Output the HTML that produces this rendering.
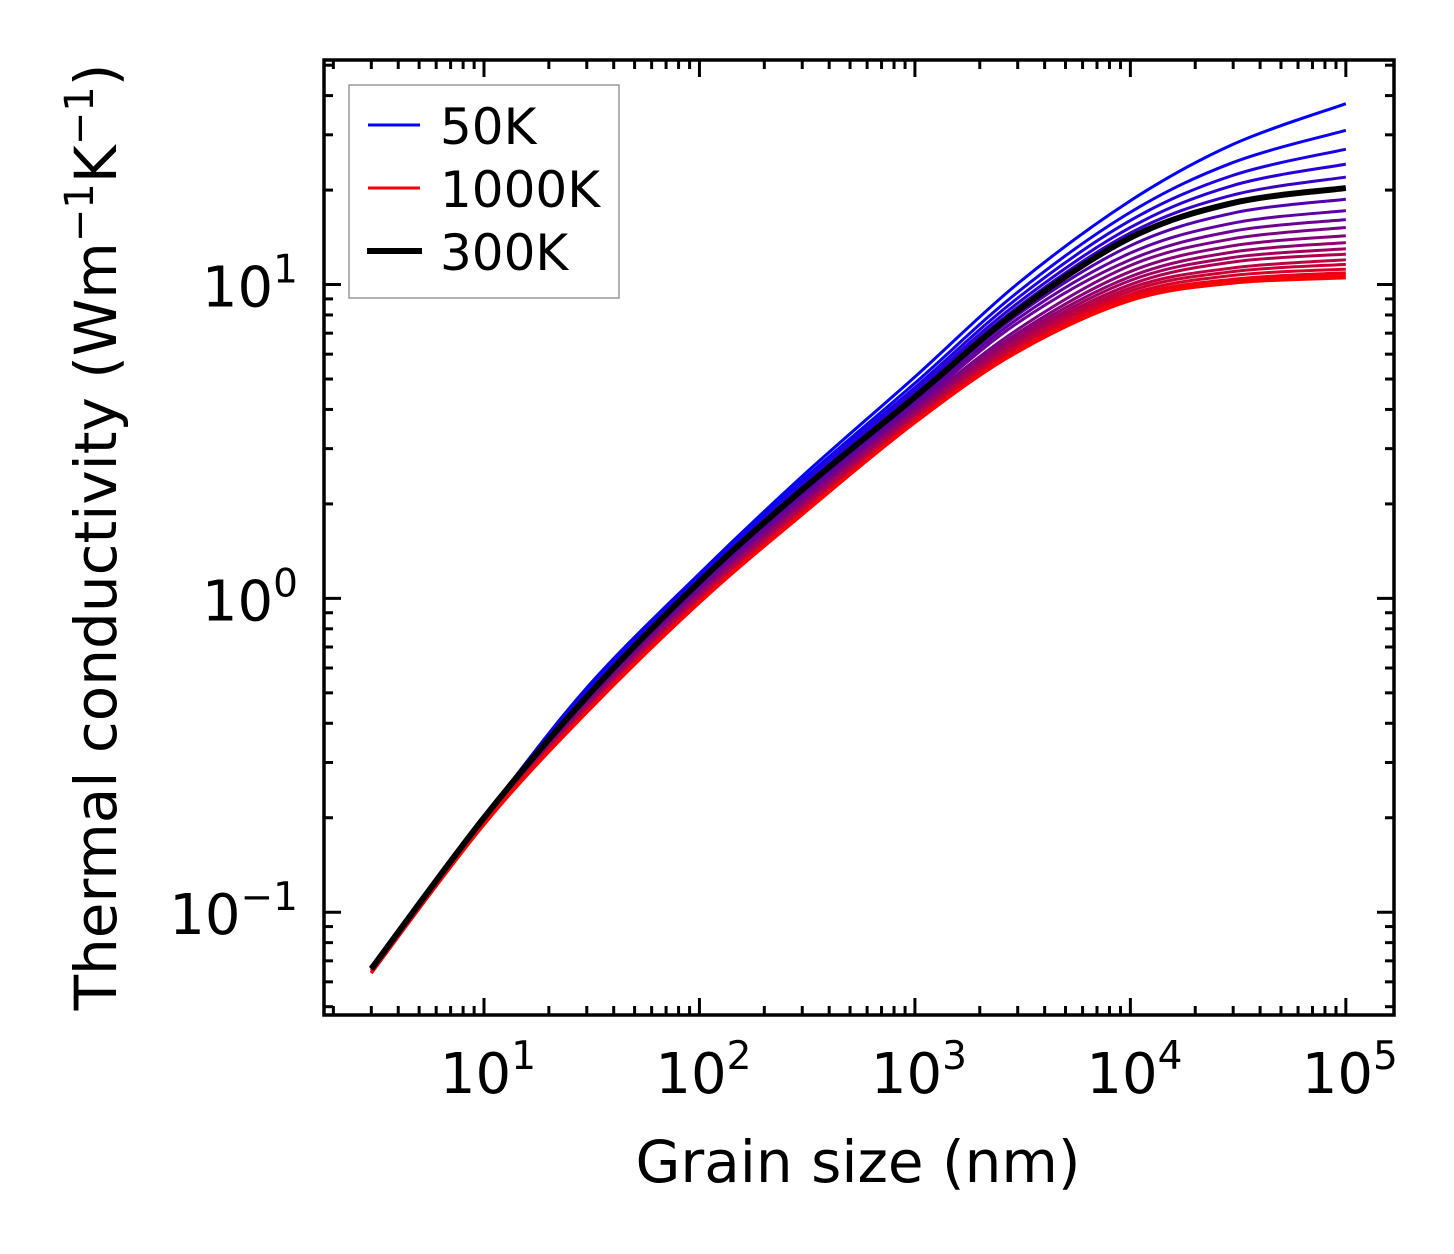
<!DOCTYPE html>
<html><head><meta charset="utf-8"><style>
html,body{margin:0;padding:0;background:#fff;}
svg{display:block;font-family:"DejaVu Sans","Liberation Sans",sans-serif;}
</style></head><body>
<svg id="chart" width="1454" height="1254" viewBox="0 0 1454 1254" xmlns="http://www.w3.org/2000/svg">
<rect width="1454" height="1254" fill="#fff"/>
<g id="curves"></g>
<g id="ticks"></g>
<rect x="324" y="60" width="1070" height="955" fill="none" stroke="#000" stroke-width="3.5"/>
<text x="858" y="1182" font-size="58" text-anchor="middle">Grain size (nm)</text>
<text transform="translate(116,537) rotate(-90)" font-size="58" text-anchor="middle">Thermal conductivity (Wm<tspan dy="-23" font-size="40">−1</tspan><tspan dy="23">K</tspan><tspan dy="-23" font-size="40">−1</tspan><tspan dy="23">)</tspan></text>
<g>
<rect x="349" y="85" width="270" height="213" fill="#fff" stroke="#999" stroke-width="1.5"/>
<g><line x1="368" y1="125" x2="420" y2="125" stroke="#0000ff" stroke-width="3"/><text x="440" y="144" font-size="50">50K</text></g>
<g><line x1="368" y1="188" x2="420" y2="188" stroke="#ff0000" stroke-width="3"/><text x="440" y="207" font-size="50">1000K</text></g>
<g><line x1="367" y1="251" x2="422" y2="251" stroke="#000" stroke-width="6"/><text x="440" y="270" font-size="50">300K</text></g>
</g>
</svg>
<script>
const grainSizes = [3, 10, 30, 100, 300, 1000, 3000, 10000, 30000, 100000];
const temps = [50,100,150,200,250,300,350,400,450,500,550,600,650,700,750,800,850,900,950,1000];
const k50   = [0.066,0.200,0.519,1.20,2.45,5.08,10.07,18.5,28.0,37.7];
const k100  = [0.066,0.200,0.508,1.18,2.38,4.85,9.46,17.0,24.5,31.0];
const k150  = [0.066,0.200,0.501,1.16,2.33,4.70,9.06,16.0,22.3,27.0];
const k200  = [0.066,0.200,0.495,1.15,2.28,4.58,8.73,15.2,20.7,24.2];
const k250  = [0.066,0.200,0.491,1.14,2.24,4.47,8.47,14.6,19.3,22.0];
const k300  = [0.066,0.200,0.486,1.13,2.22,4.38,8.26,14.1,18.2,20.3];
const k350  = [0.066,0.198,0.480,1.11,2.16,4.29,8.02,13.3,16.9,18.7];
const k400  = [0.066,0.197,0.472,1.08,2.11,4.18,7.78,12.6,15.7,17.2];
const k450  = [0.065,0.196,0.467,1.07,2.08,4.10,7.55,12.0,14.8,16.1];
const k500  = [0.065,0.195,0.462,1.05,2.04,4.03,7.20,11.5,14.0,15.2];
const k550  = [0.065,0.195,0.457,1.04,2.01,3.96,7.00,11.0,13.3,14.3];
const k600  = [0.065,0.194,0.453,1.03,1.98,3.90,6.85,10.6,12.7,13.6];
const k650  = [0.065,0.194,0.449,1.02,1.96,3.86,6.70,10.3,12.2,13.0];
const k700  = [0.065,0.193,0.447,1.01,1.94,3.81,6.58,10.0,11.8,12.5];
const k750  = [0.064,0.193,0.443,0.998,1.91,3.77,6.45,9.75,11.3,12.0];
const k800  = [0.064,0.192,0.441,0.991,1.90,3.73,6.35,9.53,11.0,11.6];
const k850  = [0.064,0.192,0.438,0.984,1.88,3.69,6.27,9.31,10.7,11.2];
const k900  = [0.064,0.191,0.436,0.977,1.87,3.67,6.20,9.14,10.4,10.9];
const k950  = [0.064,0.191,0.435,0.973,1.85,3.64,6.15,9.02,10.3,10.7];
const k1000 = [0.064,0.190,0.433,0.968,1.85,3.63,6.10,8.89,10.1,10.5];
const series = [k50,k100,k150,k200,k250,k300,k350,k400,k450,k500,k550,k600,k650,k700,k750,k800,k850,k900,k950,k1000];
const highlightSeries = k300;
const xTickLabels = ["1","2","3","4","5"];
const yTickLabels = ["−1","0","1"];

const NS = "http://www.w3.org/2000/svg";
const X0 = 324, X1 = 1394, Y0 = 60, Y1 = 1015;
const xlogMin = 0.2575, xlogMax = 5.2235;
const ylogMin = -1.3275, ylogMax = 1.7155;
function xScale(v){ return X0 + (Math.log10(v) - xlogMin) / (xlogMax - xlogMin) * (X1 - X0); }
function yScale(v){ return Y1 - (Math.log10(v) - ylogMin) / (ylogMax - ylogMin) * (Y1 - Y0); }

function smoothPath(pts){
  let d = "M" + pts[0][0].toFixed(2) + "," + pts[0][1].toFixed(2);
  for (let i = 0; i < pts.length - 1; i++){
    const p0 = pts[Math.max(0,i-1)], p1 = pts[i], p2 = pts[i+1], p3 = pts[Math.min(pts.length-1,i+2)];
    const c1x = p1[0] + (p2[0]-p0[0])/6, c1y = p1[1] + (p2[1]-p0[1])/6;
    const c2x = p2[0] - (p3[0]-p1[0])/6, c2y = p2[1] - (p3[1]-p1[1])/6;
    d += " C" + c1x.toFixed(2)+","+c1y.toFixed(2)+" "+c2x.toFixed(2)+","+c2y.toFixed(2)+" "+p2[0].toFixed(2)+","+p2[1].toFixed(2);
  }
  return d;
}

const curves = document.getElementById("curves");
const n = series.length;
series.forEach((vals, i) => {
  const t = i / (n - 1);
  const pts = vals.map((v, j) => [xScale(grainSizes[j]), yScale(v)]);
  const p = document.createElementNS(NS, "path");
  p.setAttribute("d", smoothPath(pts));
  p.setAttribute("fill", "none");
  p.setAttribute("stroke", "rgb(" + Math.round(255*t) + ",0," + Math.round(255*(1-t)) + ")");
  p.setAttribute("stroke-width", "3");
  
  
  curves.appendChild(p);
});
{
  const pts = highlightSeries.map((v, j) => [xScale(grainSizes[j]), yScale(v)]);
  const p = document.createElementNS(NS, "path");
  p.setAttribute("d", smoothPath(pts));
  p.setAttribute("fill", "none");
  p.setAttribute("stroke", "#000");
  p.setAttribute("stroke-width", "6");
  
  
  curves.appendChild(p);
}

const ticks = document.getElementById("ticks");
function line(x1,y1,x2,y2){
  const l = document.createElementNS(NS, "line");
  l.setAttribute("x1",x1); l.setAttribute("y1",y1); l.setAttribute("x2",x2); l.setAttribute("y2",y2);
  l.setAttribute("stroke","#000"); l.setAttribute("stroke-width","3");
  
  
  ticks.appendChild(l);
}
function label(x,y,base,exp,anchor,name){
  const t = document.createElementNS(NS, "text");
  t.setAttribute("x",x); t.setAttribute("y",y);
  t.setAttribute("font-size","56"); t.setAttribute("text-anchor",anchor);
  t.innerHTML = base + '<tspan dy="-24" font-size="39">' + exp + '</tspan>';
  
  
  ticks.appendChild(t);
}
for (let d = 0; d <= 5; d++){
  for (let m = 1; m <= 9; m++){
    const v = m * Math.pow(10, d);
    const x = xScale(v);
    if (x < X0 + 1 || x > X1 - 1) continue;
    const len = m === 1 ? 17 : 9;
    line(x, Y1, x, Y1 - len);
    line(x, Y0, x, Y0 + len);
  }
}
xTickLabels.forEach((e, i) => {
  const x = xScale(Math.pow(10, i + 1));
  label(x + 4, 1093, "10", e, "middle", "x-tick-label-1e" + e);
});
for (let d = -2; d <= 1; d++){
  for (let m = 1; m <= 9; m++){
    const v = m * Math.pow(10, d);
    const y = yScale(v);
    if (y < Y0 + 1 || y > Y1 - 1) continue;
    const len = m === 1 ? 17 : 9;
    line(X0, y, X0 + len, y);
    line(X1, y, X1 - len, y);
  }
}
yTickLabels.forEach((e, i) => {
  const y = yScale(Math.pow(10, i - 1));
  label(298, y + 22, "10", e, "end", "y-tick-label-1e" + e);
});
</script>
</body></html>
